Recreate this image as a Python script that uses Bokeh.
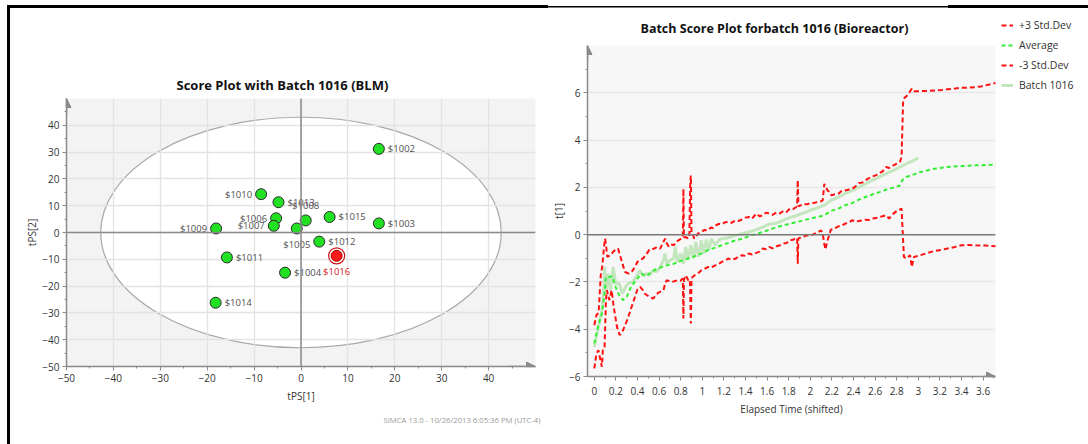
from bokeh.plotting import figure
from bokeh.models import (Range1d, FixedTicker, Span, Arrow, NormalHead, Title,
                          Legend, LegendItem, ColumnDataSource)
from bokeh.layouts import row, column
from bokeh.embed import file_html
from bokeh.resources import INLINE
from bokeh.core.properties import value

FONT = "Open Sans"

# ---------------- Score plot (left) data ----------------
batch_names = ["$1002", "$1003", "$1004", "$1005", "$1006", "$1007", "$1008",
               "$1009", "$1010", "$1011", "$1012", "$1013", "$1014", "$1015"]
batch_x = [16.6, 16.6, -3.4, -0.9, -5.3, -5.8, 1.0, -18.1, -8.5, -15.8, 3.9, -4.8, -18.2, 6.1]
batch_y = [31.2, 3.4, -15.0, 1.5, 5.3, 2.5, 4.5, 1.5, 14.3, -9.3, -3.4, 11.3, -26.2, 5.8]
label_side = ["r", "r", "r", "b", "l", "l", "a", "l", "l", "r", "r", "r", "r", "r"]
current_name = ["$1016"]
current_x = [7.6]
current_y = [-8.7]
ellipse_half_x = 42.7
ellipse_half_y = 43.0
score_ticks = [-50, -40, -30, -20, -10, 0, 10, 20, 30, 40]
score_minor = [-45, -35, -25, -15, -5, 5, 15, 25, 35, 45]

# ---------------- Batch score plot (right) data ----------------
t_upper = [0.00, 0.02, 0.04, 0.06, 0.075, 0.09, 0.10, 0.11, 0.12, 0.15,
           0.18, 0.22, 0.26, 0.285, 0.32, 0.355, 0.40, 0.43, 0.45, 0.48,
           0.51, 0.55, 0.58, 0.61, 0.64, 0.656, 0.67, 0.69, 0.72, 0.736,
           0.76, 0.78, 0.80, 0.815, 0.82, 0.825, 0.83, 0.847, 0.865, 0.88,
           0.888, 0.894, 0.90, 0.91, 0.925, 0.94, 0.96, 0.99, 1.02, 1.05,
           1.08, 1.10, 1.12, 1.15, 1.18, 1.21, 1.24, 1.27, 1.31, 1.34,
           1.37, 1.40, 1.43, 1.46, 1.50, 1.53, 1.56, 1.59, 1.62, 1.65,
           1.69, 1.72, 1.75, 1.78, 1.81, 1.84, 1.87, 1.878, 1.884, 1.89,
           1.91, 1.94, 1.97, 2.00, 2.04, 2.07, 2.10, 2.115, 2.125, 2.13,
           2.145, 2.16, 2.18, 2.195, 2.22, 2.26, 2.29, 2.32, 2.35, 2.39,
           2.42, 2.45, 2.48, 2.51, 2.54, 2.575, 2.61, 2.64, 2.67, 2.70,
           2.73, 2.77, 2.80, 2.83, 2.845, 2.86, 2.875, 2.89, 2.905, 2.92,
           2.94, 2.96, 3.02, 3.10, 3.15, 3.22, 3.27, 3.34, 3.40, 3.47,
           3.53, 3.58, 3.62, 3.67, 3.72]
upper = [-3.83, -3.4, -3.3, -1.7, -1.3, -0.5, -0.17, -0.5, -0.94, -0.87,
         -0.7, -0.59, -1.22, -1.58, -1.65, -1.53, -1.15, -1.05, -1.01, -0.85,
         -0.63, -0.6, -0.52, -0.59, -0.3, -0.17, -0.35, -0.52, -0.42, -0.45,
         -0.3, -0.24, -0.18, -0.13, -0.1, 1.94, -0.12, -0.1, -0.15, -0.13,
         2.2, 2.5, 0.04, 0.04, -0.17, -0.1, 0.05, 0.11, 0.2, 0.18,
         0.3, 0.28, 0.38, 0.45, 0.44, 0.52, 0.54, 0.5, 0.61, 0.58,
         0.65, 0.72, 0.75, 0.68, 0.89, 0.78, 0.82, 0.93, 0.89, 0.84,
         0.94, 0.9, 1.0, 0.96, 1.1, 1.08, 1.17, 1.2, 2.3, 1.2,
         1.24, 1.3, 1.28, 1.33, 1.35, 1.38, 1.41, 1.45, 1.9, 2.15,
         2.0, 1.87, 1.8, 1.66, 1.7, 1.73, 1.85, 1.87, 1.9, 1.94,
         2.05, 2.18, 2.2, 2.3, 2.38, 2.46, 2.52, 2.6, 2.68, 2.86,
         2.82, 2.93, 3.0, 3.07, 3.28, 5.68, 5.8, 5.85, 5.95, 6.03,
         6.17, 6.07, 6.07, 6.08, 6.1, 6.12, 6.15, 6.18, 6.21, 6.22,
         6.24, 6.27, 6.31, 6.36, 6.42]

t_lower = [0.00, 0.02, 0.038, 0.054, 0.07, 0.08, 0.095, 0.108, 0.117, 0.14,
           0.16, 0.18, 0.21, 0.235, 0.26, 0.31, 0.355, 0.40, 0.425, 0.45,
           0.466, 0.51, 0.545, 0.59, 0.64, 0.655, 0.67, 0.72, 0.77, 0.80,
           0.815, 0.82, 0.825, 0.83, 0.847, 0.87, 0.885, 0.894, 0.90, 0.91,
           0.94, 0.97, 0.99, 1.02, 1.05, 1.08, 1.12, 1.15, 1.18, 1.21,
           1.24, 1.27, 1.31, 1.34, 1.37, 1.40, 1.43, 1.46, 1.50, 1.53,
           1.56, 1.59, 1.62, 1.65, 1.69, 1.72, 1.75, 1.78, 1.81, 1.84,
           1.87, 1.878, 1.884, 1.89, 1.91, 1.94, 1.97, 2.00, 2.04, 2.07,
           2.10, 2.115, 2.13, 2.14, 2.16, 2.19, 2.22, 2.26, 2.29, 2.32,
           2.35, 2.39, 2.42, 2.45, 2.48, 2.51, 2.54, 2.575, 2.61, 2.64,
           2.67, 2.70, 2.73, 2.75, 2.77, 2.80, 2.845, 2.855, 2.867, 2.89,
           2.924, 2.94, 2.96, 3.02, 3.08, 3.15, 3.21, 3.27, 3.34, 3.40,
           3.47, 3.53, 3.62, 3.72]
lower = [-5.66, -5.03, -4.89, -5.24, -5.59, -4.82, -4.75, -2.77, -2.35, -2.77,
         -2.35, -3.06, -3.9, -4.25, -4.11, -3.55, -2.92, -2.32, -2.21, -2.35,
         -2.49, -2.63, -2.7, -2.46, -2.35, -2.1, -1.93, -2.0, -1.93, -1.95,
         -1.86, -1.9, -3.55, -1.9, -1.72, -1.93, -1.9, -3.76, -1.85, -1.79,
         -1.68, -1.6, -1.51, -1.45, -1.37, -1.4, -1.3, -1.25, -1.15, -1.1,
         -1.01, -1.06, -1.01, -0.92, -0.87, -0.9, -0.8, -0.84, -0.77, -0.72,
         -0.59, -0.62, -0.52, -0.58, -0.49, -0.45, -0.38, -0.35, -0.24, -0.22,
         -0.13, -0.15, -1.23, -0.15, -0.13, -0.08, -0.03, -0.05, 0.04, 0.1,
         0.18, 0.04, -0.4, -0.63, -0.24, 0.21, 0.25, 0.35, 0.38, 0.46,
         0.5, 0.61, 0.55, 0.58, 0.6, 0.63, 0.62, 0.68, 0.7, 0.75,
         0.78, 0.82, 0.68, 0.8, 0.89, 1.0, 1.1, 0.2, -0.94, -1.01,
         -0.87, -1.37, -0.94, -0.87, -0.78, -0.69, -0.65, -0.59, -0.52, -0.45,
         -0.44, -0.45, -0.46, -0.49]

t_avg = [0.00, 0.038, 0.07, 0.095, 0.108, 0.133, 0.165, 0.197, 0.23, 0.266,
         0.30, 0.34, 0.387, 0.434, 0.48, 0.53, 0.577, 0.625, 0.67, 0.736,
         0.80, 0.863, 0.926, 0.99, 1.05, 1.12, 1.18, 1.24, 1.31, 1.37,
         1.43, 1.50, 1.56, 1.62, 1.69, 1.75, 1.81, 1.88, 1.94, 2.00,
         2.07, 2.13, 2.19, 2.26, 2.32, 2.39, 2.45, 2.51, 2.575, 2.64,
         2.70, 2.77, 2.83, 2.85, 2.89, 2.96, 3.02, 3.15, 3.27, 3.40,
         3.53, 3.72]
avg = [-4.6, -3.83, -3.34, -2.49, -1.79, -1.79, -1.76, -2.21, -2.56, -2.77,
       -2.63, -2.21, -1.93, -1.65, -1.76, -1.58, -1.44, -1.37, -1.3, -1.23,
       -1.11, -1.01, -0.92, -0.8, -0.66, -0.55, -0.45, -0.35, -0.24, -0.17,
       -0.07, 0.04, 0.11, 0.21, 0.32, 0.39, 0.46, 0.54, 0.61, 0.68,
       0.75, 0.82, 1.0, 1.1, 1.24, 1.34, 1.48, 1.59, 1.7, 1.8,
       1.9, 1.99, 2.08, 2.3, 2.44, 2.55, 2.65, 2.79, 2.86, 2.9,
       2.93, 2.96]

t_batch = [0.00, 0.038, 0.07, 0.085, 0.095, 0.108, 0.127, 0.15, 0.175, 0.197,
           0.23, 0.26, 0.29, 0.32, 0.355, 0.387, 0.42, 0.45, 0.48, 0.51,
           0.545, 0.577, 0.61, 0.64, 0.656, 0.67, 0.70, 0.736, 0.75, 0.77,
           0.80, 0.825, 0.847, 0.87, 0.894, 0.92, 0.94, 0.964, 0.99, 1.015,
           1.037, 1.06, 1.085, 1.12, 1.15, 1.18, 1.24, 1.31, 1.37, 1.43,
           1.50, 1.56, 1.62, 1.69, 1.75, 1.81, 1.88, 1.94, 2.00, 2.07,
           2.13, 2.19, 2.26, 2.32, 2.39, 2.45, 2.51, 2.575, 2.64, 2.70,
           2.77, 2.83, 2.89, 2.96, 3.00]
batch = [-4.75, -3.9, -3.2, -2.49, -1.37, -2.49, -1.65, -2.35, -1.37, -2.07,
         -2.07, -2.49, -2.21, -2.04, -2.0, -1.79, -1.51, -1.72, -1.65, -1.72,
         -1.51, -1.58, -1.37, -1.08, -0.8, -1.23, -1.08, -1.01, -0.52, -1.15,
         -0.8, -1.23, -0.52, -1.08, -0.45, -1.01, -0.31, -0.94, -0.24, -0.8,
         -0.21, -0.66, -0.17, -0.45, -0.24, -0.17, -0.13, -0.03, 0.04, 0.11,
         0.21, 0.32, 0.44, 0.49, 0.61, 0.72, 0.82, 0.92, 1.03, 1.14,
         1.24, 1.45, 1.59, 1.73, 1.87, 2.01, 2.15, 2.3, 2.44, 2.58,
         2.72, 2.86, 3.0, 3.14, 3.25]

time_ticks = [0, 0.2, 0.4, 0.6, 0.8, 1, 1.2, 1.4, 1.6, 1.8, 2, 2.2, 2.4, 2.6, 2.8, 3, 3.2, 3.4, 3.6]
time_labels = ["0", "0.2", "0.4", "0.6", "0.8", "1", "1.2", "1.4", "1.6", "1.8", "2",
               "2.2", "2.4", "2.6", "2.8", "3", "3.2", "3.4", "3.6"]
time_minor = [0.1, 0.3, 0.5, 0.7, 0.9, 1.1, 1.3, 1.5, 1.7, 1.9, 2.1, 2.3, 2.5, 2.7, 2.9, 3.1, 3.3, 3.5, 3.7]
t1_ticks = [-6, -4, -2, 0, 2, 4, 6]
t1_minor = [-5, -3, -1, 1, 3, 5, 7]
legend_labels = ["+3 Std.Dev", "Average", "-3 Std.Dev", "Batch 1016"]

AX = "#8a8a8a"
RED = "#ff1111"
GREEN = "#33ee33"
BATCH = "#c4e6bf"


def style_axes(p):
    for ax in (p.xaxis[0], p.yaxis[0]):
        ax.axis_line_color = AX
        ax.axis_line_width = 1.5
        ax.major_tick_line_color = AX
        ax.minor_tick_line_color = AX
        ax.major_tick_in = 0
        ax.major_tick_out = 4
        ax.minor_tick_in = 0
        ax.minor_tick_out = 2
        ax.major_label_standoff = 3
        ax.major_label_text_font = FONT
        ax.major_label_text_font_size = "10px"
        ax.major_label_text_color = "#333333"
        ax.axis_label_text_font = FONT
        ax.axis_label_text_font_size = "10px"
        ax.axis_label_text_font_style = "normal"
        ax.axis_label_text_color = "#333333"
        ax.axis_label_standoff = 4
    p.yaxis[0].axis_label_standoff = 0


# ---------------- left figure ----------------
left = figure(width=548, height=444, x_range=Range1d(-50, 50), y_range=Range1d(-50, 50),
              output_backend="svg", toolbar_location=None,
              min_border_left=66, min_border_right=13, min_border_top=98, min_border_bottom=78)
left.title.text = "Score Plot with Batch 1016 (BLM)"
left.title.align = "left"
left.title.offset = 110
left.title.text_font = FONT
left.title.text_font_size = "13px"
left.title.text_font_style = "bold"
left.title.text_color = "#111111"
left.background_fill_color = "#f3f3f3"
left.border_fill_color = None
left.outline_line_color = None
left.styles = {
    "background-image": "linear-gradient(#000,#000), linear-gradient(#000,#000)",
    "background-position": "7px 5px, 7px 5px",
    "background-size": "541px 3px, 3px 100%",
    "background-repeat": "no-repeat, no-repeat",
}

left.xaxis.ticker = FixedTicker(ticks=score_ticks, minor_ticks=score_minor)
left.yaxis.ticker = FixedTicker(ticks=score_ticks, minor_ticks=score_minor)
left.xaxis.axis_label = "tPS[1]"
left.yaxis.axis_label = "tPS[2]"
style_axes(left)
left.grid.grid_line_color = "#e3e3e3"
left.grid.grid_line_width = 1.3

left.ellipse(x=[0], y=[0], width=[2 * ellipse_half_x], height=[2 * ellipse_half_y],
             fill_color="white", line_color="#a8a8a8", line_width=1.2, level="image")
left.add_layout(Span(location=0, dimension="height", line_color=AX, line_width=1.5))
left.add_layout(Span(location=0, dimension="width", line_color=AX, line_width=1.5))

side_map = {"r": (9, 0, "left"), "l": (-9, 0, "right"), "a": (0, -15, "center"), "b": (0, 16, "center")}
src = ColumnDataSource(dict(
    x=batch_x, y=batch_y, name=batch_names,
    dx=[side_map[s][0] for s in label_side],
    dy=[side_map[s][1] for s in label_side],
    align=[side_map[s][2] for s in label_side]))
left.scatter("x", "y", source=src, size=11, fill_color="#22e022", line_color="#2a2a2a", line_width=1)
left.text("x", "y", text="name", source=src, x_offset="dx", y_offset="dy", text_align="align",
          text_baseline="middle", text_font=value(FONT), text_font_size="9.5px", text_color="#505050")

cur = ColumnDataSource(dict(x=current_x, y=current_y, name=current_name))
left.scatter("x", "y", source=cur, size=16, fill_color="white", line_color="#d01010", line_width=1.2)
left.scatter("x", "y", source=cur, size=11, fill_color="#ff1a1a", line_color="#b00000", line_width=1)
left.text("x", "y", text="name", source=cur, y_offset=16, text_align="center", text_baseline="middle",
          text_font=value(FONT), text_font_size="9.5px", text_color="#d42020")

left.add_layout(Arrow(end=NormalHead(size=9, fill_color=AX, line_color=AX),
                      x_start=-50, y_start=44, x_end=-50, y_end=50, line_color=AX, line_width=1.5))
left.add_layout(Arrow(end=NormalHead(size=9, fill_color=AX, line_color=AX),
                      x_start=44, y_start=-50, x_end=50, y_end=-50, line_color=AX, line_width=1.5))

left.add_layout(Title(text="SIMCA 13.0 - 10/26/2013 6:05:36 PM (UTC-4)", align="right", offset=-5,
                      text_font=FONT, text_font_size="7.7px", text_font_style="normal",
                      text_color="#999999", standoff=14), "below")

# ---------------- right figure ----------------
right = figure(width=452, height=444, x_range=Range1d(-0.063, 3.715), y_range=Range1d(-6, 8),
               output_backend="svg", toolbar_location=None,
               min_border_left=39, min_border_right=5, min_border_top=45, min_border_bottom=68)
right.title.text = "Batch Score Plot forbatch 1016 (Bioreactor)"
right.title.align = "left"
right.title.offset = 53
right.title.standoff = 18
right.title.text_font = FONT
right.title.text_font_size = "12.5px"
right.title.text_font_style = "bold"
right.title.text_color = "#111111"
right.background_fill_color = "#f7f7f7"
right.border_fill_color = None
right.outline_line_color = None
right.styles = {
    "background-image": "linear-gradient(#000,#000), linear-gradient(#000,#000)",
    "background-position": "0px 6px, 400px 5px",
    "background-size": "400px 1.5px, 52px 3px",
    "background-repeat": "no-repeat, no-repeat",
}

right.xaxis.ticker = FixedTicker(ticks=time_ticks, minor_ticks=time_minor)
right.xaxis.major_label_overrides = {t: l for t, l in zip(time_ticks, time_labels)}
right.yaxis.ticker = FixedTicker(ticks=t1_ticks, minor_ticks=t1_minor)
right.xaxis.axis_label = "Elapsed Time (shifted)"
right.yaxis.axis_label = "t[1]"
style_axes(right)
right.xaxis.major_label_standoff = 6
right.xgrid.grid_line_color = None
right.ygrid.grid_line_color = "#e6e6e6"
right.ygrid.grid_line_width = 1.3
right.add_layout(Span(location=0, dimension="width", line_color="#7a7a7a", line_width=1.5))

right.line(t_batch, batch, line_color=BATCH, line_width=3)
right.line(t_avg, avg, line_color=GREEN, line_width=2, line_dash="4 3")
right.line(t_upper, upper, line_color=RED, line_width=2, line_dash="5 3")
right.line(t_lower, lower, line_color=RED, line_width=2, line_dash="5 3")

right.add_layout(Arrow(end=NormalHead(size=9, fill_color=AX, line_color=AX),
                       x_start=-0.063, y_start=7.3, x_end=-0.063, y_end=8, line_color=AX, line_width=1.5))
right.add_layout(Arrow(end=NormalHead(size=9, fill_color=AX, line_color=AX),
                       x_start=3.6, y_start=-6, x_end=3.715, y_end=-6, line_color=AX, line_width=1.5))

# ---------------- legend panel (outside the plot area, like the reference) ----------------
# the series are re-plotted here outside the visible range only so that the legend can show
# their line styles; the panel itself shows nothing but the legend
lg = figure(width=88, height=444, x_range=Range1d(-20, -19), y_range=Range1d(-20, -19),
            output_backend="svg", toolbar_location=None,
            min_border_left=1, min_border_right=0, min_border_top=18, min_border_bottom=0)
lg.axis.visible = False
lg.grid.visible = False
lg.outline_line_color = None
lg.background_fill_color = None
lg.border_fill_color = None
lg.styles = {
    "background-image": "linear-gradient(#000,#000)",
    "background-position": "0px 5px",
    "background-size": "100% 3px",
    "background-repeat": "no-repeat",
}
k_up = lg.line(t_upper, upper, line_color=RED, line_width=2, line_dash="5 3")
k_avg = lg.line(t_avg, avg, line_color=GREEN, line_width=2, line_dash="4 3")
k_low = lg.line(t_lower, lower, line_color=RED, line_width=2, line_dash="5 3")
k_b = lg.line(t_batch, batch, line_color=BATCH, line_width=3)
legend = Legend(items=[LegendItem(label=lbl, renderers=[r]) for lbl, r in
                       zip(legend_labels, [k_up, k_avg, k_low, k_b])],
                location="top_left", glyph_width=12, glyph_height=14, label_height=14,
                spacing=6, padding=2, margin=0, label_standoff=6,
                label_text_font=FONT, label_text_font_size="10.5px", label_text_color="#333333",
                background_fill_alpha=0, border_line_color=None)
lg.add_layout(legend, "center")

layout = row(column(left), column(right), column(lg))
open("out.html", "w").write(file_html(layout, INLINE))
